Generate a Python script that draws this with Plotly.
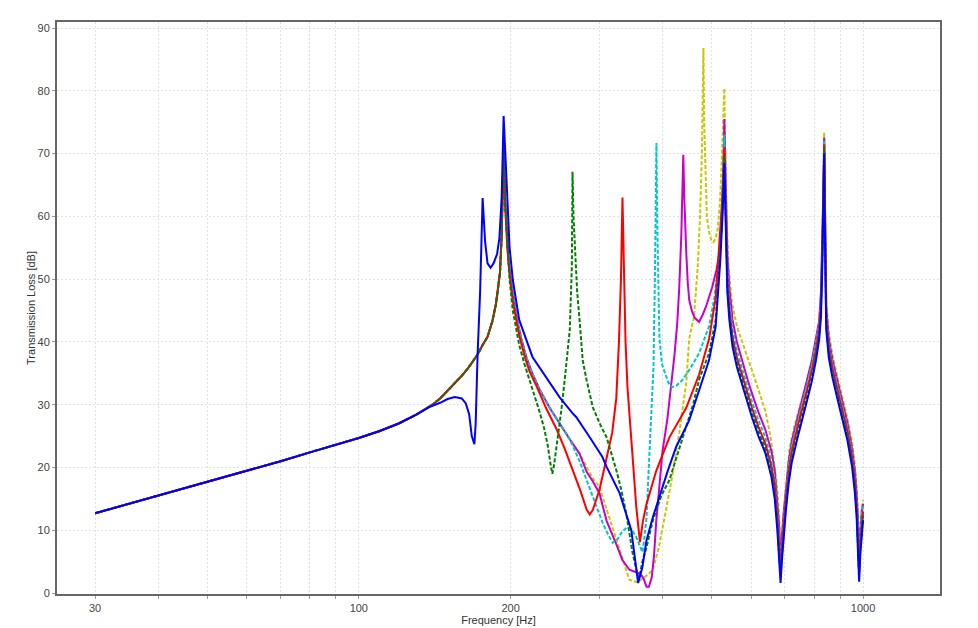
import plotly.graph_objects as go

# ---------------- data (frequency [Hz], transmission loss [dB]) ----------------
# common low-frequency branch shared by all configurations
LOW_F = [30, 35, 40, 45, 50, 60, 70, 80, 90, 100, 110, 120, 130, 140, 145, 150, 155,
         160, 165, 168, 172, 176, 180, 184, 187, 189, 190.5, 192]
LOW_TL = [12.7, 14.2, 15.5, 16.7, 17.7, 19.5, 21.0, 22.4, 23.6, 24.7, 25.8, 27.0, 28.4,
          30.0, 31.0, 32.2, 33.4, 34.6, 35.9, 36.8, 38.0, 39.5, 40.8, 43.3, 46.0, 48.8, 51.0, 57.0]

# common descent after the first resonance (cyan / magenta / yellow)
MID_F = [193.7, 195, 196.5, 198, 200, 203, 206, 210, 215, 220, 228, 239, 250, 262]
MID_TL = [71, 63, 57, 53, 50, 46.5, 43.5, 40.5, 37.5, 35.3, 32.5, 29.5, 27.0, 24.5]

# blue (solid)
BLUE_F = [138, 145, 150, 155, 160, 163, 165.5, 167.5, 169.5, 170.5, 172, 174, 176, 178, 180,
          182.5, 185, 188, 190, 192, 193.7, 196.3, 199, 202, 208, 221, 239, 250, 265, 270,
          287, 304, 310, 329, 347, 353, 358, 365, 372, 383, 395, 410, 426, 452, 473, 495,
          510, 521, 527, 530.7, 533, 535.6, 538, 543, 551, 562, 575, 590, 602, 620, 640,
          658, 668, 676, 681, 686, 690, 696, 703, 712, 722, 740, 758, 775, 792, 806, 818,
          825, 830, 834, 837.3, 839, 841.5, 845, 855, 869, 889, 909, 930, 951, 963, 971,
          977, 982, 987, 994, 1000]
BLUE_TL = [29.6, 30.3, 30.9, 31.2, 31.0, 30.2, 28.5, 25.0, 23.7, 27.0, 38.0, 48.0, 62.9,
           56.0, 52.5, 51.8, 52.5, 54.0, 56.5, 63.0, 76.0, 65.8, 55.1, 49.9, 43.5, 37.6,
           33.5, 31.2, 28.7, 28.0, 24.8, 21.7, 20.1, 15.9, 10.0, 5.5, 1.6, 4.1, 8.4, 12.1,
           15.5, 19.5, 23.3, 27.5, 32.3, 37.1, 42.4, 53.0, 61.0, 68.5, 62.0, 56.0, 48.0,
           43.5, 39.2, 36.0, 33.2, 30.3, 28.0, 25.0, 22.3, 18.5, 15.0, 10.0, 6.0, 1.6, 5.0,
           9.0, 13.2, 17.5, 20.8, 24.5, 27.6, 30.8, 33.9, 37.0, 40.3, 44.0, 52.0, 60.0,
           70.0, 61.0, 50.0, 42.0, 37.5, 34.4, 31.0, 28.0, 24.5, 20.1, 16.0, 12.0, 7.5,
           1.8, 6.0, 9.5, 11.6]

# green (dashed)
GREEN_F = [193.7, 195, 197, 199, 202, 208, 213, 218, 223, 228, 233, 237, 240, 242, 244,
           248, 252, 256, 262, 264.5, 265.3, 266.5, 268, 271, 274, 278, 283, 291, 300, 310,
           324, 332, 339, 349, 357, 360, 365, 372, 383, 398, 413, 430, 446, 460, 473, 495,
           510, 521, 527, 530.7, 533, 535.6, 538, 543, 551, 562, 575, 590, 602, 620, 640,
           658, 668, 676, 681, 686, 690, 696, 703, 712, 722, 740, 758, 775, 792, 806, 818,
           825, 830, 834, 837.3, 839, 841.5, 845, 855, 869, 889, 909, 930, 951, 963, 971,
           977, 982, 987, 994, 1000]
GREEN_TL = [71.5, 62, 55, 50, 45, 39.5, 36.5, 34, 31.5, 29, 26.3, 23.5, 20.5, 19.0, 20.5,
            24.4, 29, 33.9, 41.9, 52, 67.1, 60, 55, 48, 43.5, 37, 33.9, 29.6, 27.1, 24.8,
            19.6, 16.2, 12.7, 6.4, 2.9, 2.5, 5.0, 7.3, 11.6, 15.5, 18.0, 22.5, 26.4, 30.0,
            34.0, 38.2, 43.5, 54.6, 63, 69.5, 63, 57, 49, 44.3, 40, 36.8, 34, 31.1, 28.8,
            25.8, 23, 19.3, 16, 11, 7, 2.5, 6, 10, 14, 18.3, 21.6, 25.3, 28.4, 31.6, 34.7,
            37.8, 41, 45, 53, 61, 71, 62, 51, 43, 38.3, 35.1, 31.7, 28.7, 25.2, 20.9, 17,
            13, 8.5, 3, 7, 10.5, 12.5]

# red (solid)
RED_F = [193.7, 195, 197, 199, 202, 208, 213, 218, 225, 235, 247, 256, 265, 275, 283, 287,
         291, 300, 310, 318, 324, 328, 331, 333.3, 335.5, 338, 341, 348, 355, 361, 366,
         372, 389, 413, 446, 473, 495, 510, 521, 526, 530.7, 533, 535.6, 538, 543, 551,
         562, 575, 590, 602, 620, 640, 658, 668, 676, 681, 686, 690, 696, 703, 712, 722,
         740, 758, 775, 792, 806, 818, 825, 830, 834, 837.3, 839, 841.5, 845, 855, 869,
         889, 909, 930, 951, 963, 971, 977, 982, 987, 994, 1000]
RED_TL = [71, 62, 55, 51, 46.5, 41, 37.8, 35.3, 33.0, 29.5, 26.0, 23.0, 19.8, 16.3, 13.3,
          12.5, 13.2, 16.4, 21.5, 25.5, 31, 40, 50, 63, 52, 40, 32.8, 23.3, 13.7, 8.1,
          11.5, 14.2, 19.5, 24.8, 29.5, 34.8, 40.5, 47, 57.5, 63, 71, 64, 58, 50, 45, 40.7,
          37.5, 34.7, 31.8, 29.5, 26.5, 23.8, 20.2, 17, 12, 8, 3.2, 7, 11, 15, 19.2, 22.5,
          26.2, 29.3, 32.5, 35.6, 38.6, 41.8, 46, 54, 62, 71.5, 63, 52, 44, 39, 35.8,
          32.4, 29.4, 25.9, 21.6, 18, 14, 9.5, 3.5, 8, 11.5, 13]

# cyan (dashed)
CYAN_F = [274, 285, 296, 305, 314, 319, 326, 333, 341, 347, 355, 361, 365, 368, 372, 377,
          381, 384, 386.5, 388, 389.2, 390.5, 392, 394.5, 399, 405, 411, 418, 426, 438, 452,
          473, 495, 507, 518, 524, 528, 530.7, 533, 535.6, 538, 543, 551, 562, 575, 590,
          602, 620, 640, 658, 668, 676, 681, 686, 690, 696, 703, 712, 722, 740, 758, 775,
          792, 806, 818, 825, 830, 834, 837.3, 839, 841.5, 845, 855, 869, 889, 909, 930,
          951, 963, 971, 977, 982, 987, 994, 1000]
CYAN_TL = [21.0, 17.3, 13.8, 11.0, 8.9, 8.0, 8.6, 9.8, 10.5, 10.2, 8.9, 7.5, 6.5, 8.5, 12,
           22.3, 29, 36, 50, 60, 71.7, 60, 50, 40.8, 36.5, 34.8, 33.5, 32.8, 33.0, 33.9,
           35.5, 38.2, 42.5, 47, 53, 60, 67, 73, 66, 59.5, 52, 46.5, 42, 38.6, 35.7, 32.8,
           30.5, 27.5, 24.8, 21.3, 18.2, 13.5, 9.5, 4, 8, 12, 16, 20.2, 23.5, 27.1, 30.2,
           33.4, 36.5, 39.5, 42.6, 47, 55, 63, 72, 63.5, 52.5, 44.8, 39.8, 36.5, 33.1,
           30.1, 26.6, 22.3, 18.8, 15, 10.5, 4, 9, 12.5, 13.8]

# magenta (solid)
MAGENTA_F = [274, 283, 291, 300, 310, 318, 325, 333, 344, 355, 362, 367, 372, 376, 381, 385,
             389, 395, 400, 409, 417, 423, 428, 432, 436, 438, 440, 442, 444, 446, 449, 452,
             458, 464, 473, 480, 488, 502, 512, 519, 524, 528, 530.7, 533, 535.6, 538, 543,
             551, 562, 575, 590, 602, 620, 640, 658, 668, 676, 681, 686, 690, 696, 703, 712,
             722, 740, 758, 775, 792, 806, 818, 825, 830, 834, 837.3, 839, 841.5, 845, 855,
             869, 889, 909, 930, 951, 963, 971, 977, 982, 987, 994, 1000]
MAGENTA_TL = [22.2, 19.3, 17.8, 15.9, 11.5, 9.5, 7.5, 5.3, 3.7, 3.3, 3.0, 2.3, 1.0, 1.0,
              2.5, 6, 11.6, 17.5, 22.5, 27.6, 33.5, 38.2, 43, 48.7, 57, 62, 69.8, 63, 58,
              54.2, 49.5, 46.7, 44.8, 43.8, 43.2, 44.2, 45.6, 48.7, 51.5, 54.2, 58.5, 66,
              75.5, 69, 62, 54, 48.5, 43.5, 40, 37, 34, 31.8, 28.8, 26, 22.6, 19.5, 15, 11,
              4.5, 9, 13, 17, 21, 24.2, 27.8, 30.9, 34.1, 37.2, 40.2, 43.3, 48, 56, 64, 72.5,
              64, 53, 45.5, 40.5, 37.2, 33.8, 30.8, 27.3, 23, 19.5, 15.8, 11.5, 4.5, 9.5, 13,
              14.2]

# yellow (dashed)
YELLOW_F = [274, 291, 300, 316, 333, 344, 357, 374, 383, 394, 405, 416, 432, 446, 452, 462,
            470, 475, 479, 482.3, 484, 487, 490, 495, 500, 505, 510, 515, 520, 524, 528,
            530.7, 533, 536, 541, 550, 562, 575, 590, 605, 620, 640, 655, 665, 673, 680, 685,
            689, 693, 700, 714, 730, 750, 770, 790, 805, 818, 826, 832, 837.3, 839, 841.5,
            845, 855, 869, 889, 909, 930, 951, 963, 971, 977, 982, 987, 994, 1000]
YELLOW_TL = [22.2, 18.3, 16.9, 11.4, 5.5, 2.1, 1.7, 2.9, 3.7, 7.5, 12.5, 17.5, 25.5, 33.5,
             40.5, 44, 52, 60, 70, 86.8, 75, 66, 60, 57.5, 56.2, 55.9, 56.5, 58, 62, 68, 75,
             80.4, 70, 60, 52, 46, 42.5, 40, 37.5, 35, 32.5, 29, 25, 21.5, 18, 14, 9, 5, 9,
             14, 22.8, 26.5, 29.8, 33.3, 36.4, 38.7, 42, 48, 58, 73.3, 65, 54, 46.5, 41.5, 38,
             34.5, 31.5, 28, 24, 20.5, 17, 12.5, 5, 10, 13.5, 14.8]

# axis ticks
X_TICKS = [30, 40, 50, 60, 70, 80, 90, 100, 200, 300, 400, 500, 600, 700, 800, 900, 1000]
X_LABELS = ["30", "", "", "", "", "", "", "100", "200", "", "", "", "", "", "", "", "1000"]

# ---------------- build series ----------------
series = [
    ("yellow", LOW_F + MID_F + YELLOW_F, LOW_TL + MID_TL + YELLOW_TL, "#C8C800", "4px,2px"),
    ("magenta", LOW_F + MID_F + MAGENTA_F, LOW_TL + MID_TL + MAGENTA_TL, "#C800C8", "solid"),
    ("cyan", LOW_F + MID_F + CYAN_F, LOW_TL + MID_TL + CYAN_TL, "#00C8C8", "4px,2px"),
    ("red", LOW_F + RED_F, LOW_TL + RED_TL, "#FF0000", "solid"),
    ("green", LOW_F + GREEN_F, LOW_TL + GREEN_TL, "#008000", "4px,2px"),
    ("blue", LOW_F[:13] + BLUE_F, LOW_TL[:13] + BLUE_TL, "#0000FF", "solid"),
]

fig = go.Figure()
for name, fx, fy, col, dash in series:
    fig.add_trace(go.Scatter(x=fx, y=fy, mode="lines", name=name,
                             line=dict(color=col, width=2, dash=dash)))

axis_common = dict(
    showline=True, mirror=True, linecolor="#666666", linewidth=2,
    showgrid=True, gridcolor="#e2e2e2", griddash="2px,2px", gridwidth=1,
    ticks="outside", ticklen=3, tickcolor="#999999",
    tickfont=dict(family="Liberation Sans, Arial, sans-serif", size=11, color="#444444"),
    zeroline=False, automargin=False,
)

# the page body adds an 8px offset; margins are chosen so the plot area
# lands at x 57..940, y 22..594 in the 978x628 window
fig.update_layout(
    width=970, height=620,
    margin=dict(l=49, r=38, t=14, b=34),
    paper_bgcolor="white", plot_bgcolor="white",
    showlegend=False,
    font=dict(family="Liberation Sans, Arial, sans-serif", size=11, color="#333333"),
    xaxis=dict(type="log", range=[1.4015, 3.1525], tickmode="array",
               tickvals=X_TICKS, ticktext=X_LABELS,
               title=dict(text="Frequency [Hz]", standoff=0,
                          font=dict(size=11, color="#333333")),
               **axis_common),
    yaxis=dict(range=[-0.16, 90.96], tick0=0, dtick=10,
               title=dict(text="Transmission Loss [dB]", standoff=0,
                          font=dict(size=11, color="#333333")),
               **axis_common),
)

fig.write_html("out.html")
